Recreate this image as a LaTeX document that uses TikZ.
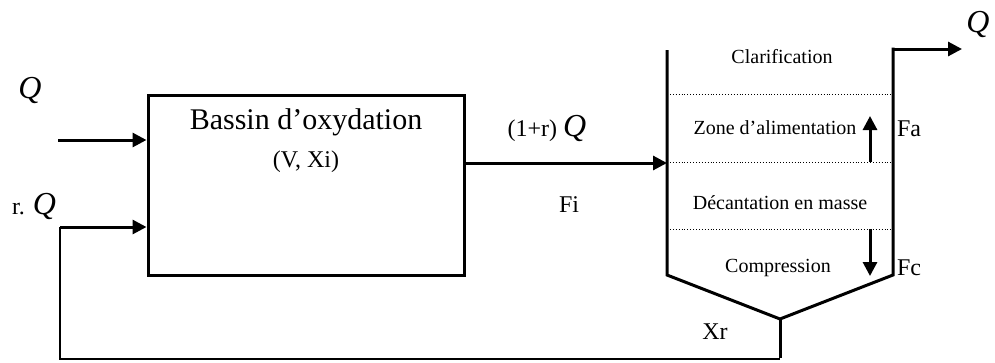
\documentclass[tikz,border=0pt]{standalone}
\usepackage{fontspec}
\setmainfont{Liberation Serif}
\usetikzlibrary{arrows.meta}
\begin{document}
\begin{tikzpicture}[x=1pt,y=-1pt,
  flow/.style={line width=3pt,-{Triangle[length=14pt,width=14pt]}},
  wall/.style={line width=3pt},
  ret/.style={line width=1.6pt},
  zone/.style={line width=0.9pt,dotted},
  big/.style={font=\fontsize{30}{34}\selectfont,inner sep=0pt},
  mid/.style={font=\fontsize{24}{28}\selectfont,inner sep=0pt},
  small/.style={font=\fontsize{20}{24}\selectfont,inner sep=0pt},
  qlab/.style={font=\fontsize{32}{36}\selectfont\itshape,inner sep=0pt}]
\useasboundingbox (0,0) rectangle (995,362);
% basin
\node[draw,line width=3pt,minimum width=316pt,minimum height=180pt,inner sep=0pt] (basin) at (306,185) {};
\node[big] (tb) at (306,122) {Bassin d’oxydation};
\node[mid] (tv) at (306,162) {(V, Xi)};
% inputs
\node[qlab] (q1) at (30,90) {Q};
\node[mid,anchor=base west] (rq) at (12,214) {r. \textit{\fontsize{32}{36}\selectfont Q}};
\coordinate (qin) at (58,140);
\draw[flow] (qin) -- (basin.west |- qin);
\coordinate (lr) at (60,227);
\draw[flow] (lr) -- (basin.west |- lr);
% clarifier
\coordinate (tl) at (667,50);
\coordinate (bl) at (667,275);
\coordinate (v) at (780,319);
\coordinate (br) at (893,275);
\coordinate (tr) at (893,49);
\coordinate (out) at (962,49);
\coordinate (feed) at (667,163);
\draw[wall,line join=miter] (tl) -- (bl) -- (v) -- (br) -- (tr) -- ++(1.5,0);
\draw[flow] (tr) -- (out);
\draw[flow] (basin.east |- feed) -- (feed);
\node[mid] (l1) at (547,128) {(1+r) \textit{\fontsize{32}{36}\selectfont Q}};
\node[mid] (fi) at (569,205) {Fi};
\node[qlab] (q2) at (978,24) {Q};
% zones
\coordinate (d1l) at (667,94); \coordinate (d1r) at (893,94);
\coordinate (d2l) at (667,162); \coordinate (d2r) at (893,162);
\coordinate (d3l) at (667,229); \coordinate (d3r) at (893,229);
\draw[zone] (d1l) -- (d1r);
\draw[zone] (d2l) -- (d2r);
\draw[zone] (d3l) -- (d3r);
\node[small] (clar) at (782,57) {Clarification};
\node[small] (alim) at (775,128) {Zone d’alimentation};
\node[small] (dec) at (780,203) {Décantation en masse};
\node[small] (comp) at (778,268) {Compression};
\coordinate (ua) at (870,162); \coordinate (ub) at (870,116);
\draw[line width=3pt,-{Triangle[length=14pt,width=14pt]}] (ua) -- (ub);
\coordinate (da) at (870,229); \coordinate (db) at (870,276);
\draw[line width=3pt,-{Triangle[length=14pt,width=14pt]}] (da) -- (db);
\node[mid] (fa) at (909,129) {Fa};
\node[mid] (fc) at (909,268) {Fc};
\node[mid] (xr) at (715,332) {Xr};
% return line
\coordinate (rb) at (780,359);
\coordinate (lb) at (60,359);
\draw[wall] (v) -- (780,358);
\draw[ret] (rb) -- (lb) -- (lr);
\end{tikzpicture}
\end{document}
